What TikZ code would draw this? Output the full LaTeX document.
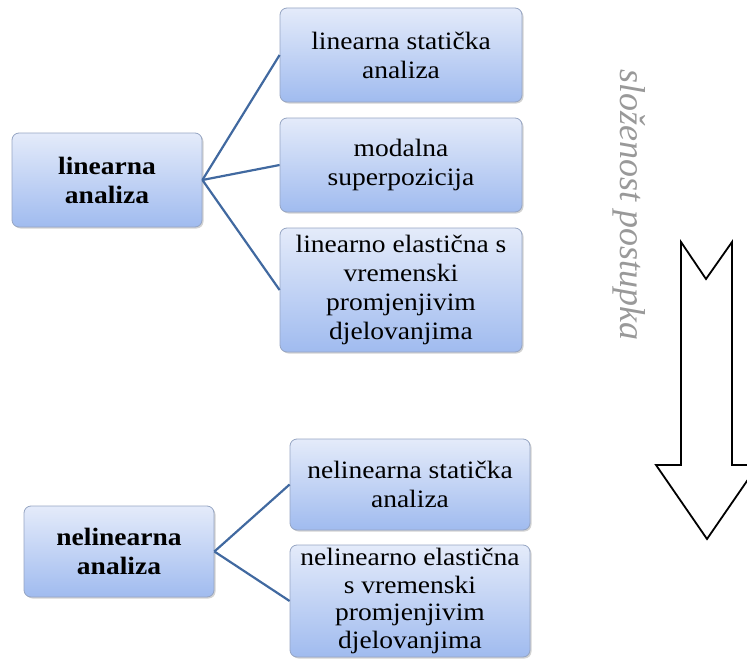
\documentclass[tikz,border=0pt]{standalone}
\usepackage{fontspec}
\setmainfont{Liberation Serif}[FakeStretch=1.1]
\newfontfamily\arrowfont{Liberation Serif Italic}
\usetikzlibrary{
    arrows.meta,
    positioning,
    shadows,
}
\definecolor{boxtop}{RGB}{228,235,250}
\definecolor{boxbottom}{RGB}{160,187,239}
\definecolor{boxline}{RGB}{150,165,195}
\definecolor{linkblue}{RGB}{65,105,160}

\begin{document}
\begin{tikzpicture}[
        x=1pt, y=-1pt,
        rootbox/.style={rectangle, draw=boxline, top color=boxtop,
            bottom color=boxbottom, rounded corners=7pt, line width=0.8pt,
            drop shadow={shadow xshift=1.5pt, shadow yshift=-1.5pt, opacity=0.35},
            minimum width=190pt, align=center, inner sep=2pt,
            font=\fontsize{25}{29}\selectfont\bfseries},
        leafbox/.style={rootbox, minimum width=242pt,
            font=\fontsize{25}{29}\selectfont},
        link/.style={draw=linkblue, line width=2.2pt},
        bigarrow/.style={draw=black, fill=white, line width=1.8pt,
            line join=miter},
    ]
        \useasboundingbox (0,0) rectangle (747,661);

        % Root nodes
        \node[rootbox, minimum height=94pt] (lin) at (107,180) {linearna\\analiza};
        \node[rootbox, minimum height=91pt] (nelin) at (119,551.5) {nelinearna\\analiza};

        % Linear methods
        \node[leafbox, minimum height=94pt] (ls) at (401,55) {linearna statička\\analiza};
        \node[leafbox, minimum height=94pt] (ms) at (401,165) {modalna\\superpozicija};
        \node[leafbox, minimum height=124pt] (le) at (401,290)
            {linearno elastična s\\vremenski\\promjenjivim\\djelovanjima};

        % Nonlinear methods
        \node[leafbox, minimum width=240pt, minimum height=91pt] (ns) at (410,484.5)
            {nelinearna statička\\analiza};
        \node[leafbox, minimum width=240pt, minimum height=112pt,
            font=\fontsize{25}{27.5}\selectfont] (ne) at (410,601)
            {nelinearno elastična\\s vremenski\\promjenjivim\\djelovanjima};

        % Links
        \draw[link] (lin.east) -- (ls.west);
        \draw[link] (lin.east) -- (ms.west);
        \draw[link] (lin.east) -- (le.west);
        \draw[link] (nelin.east) -- (ns.west);
        \draw[link] (nelin.east) -- (ne.west);

        % Complexity arrow
        \draw[bigarrow] (681,242) -- (706,279) -- (732,242) -- (732,465)
            -- (758,465) -- (707,539) -- (656,465) -- (681,465) -- cycle;
        \node[rotate=-90, text=gray!80, font=\fontsize{36}{40}\arrowfont]
            (slozenost) at (629,205) {složenost postupka};
    \end{tikzpicture}
\end{document}
